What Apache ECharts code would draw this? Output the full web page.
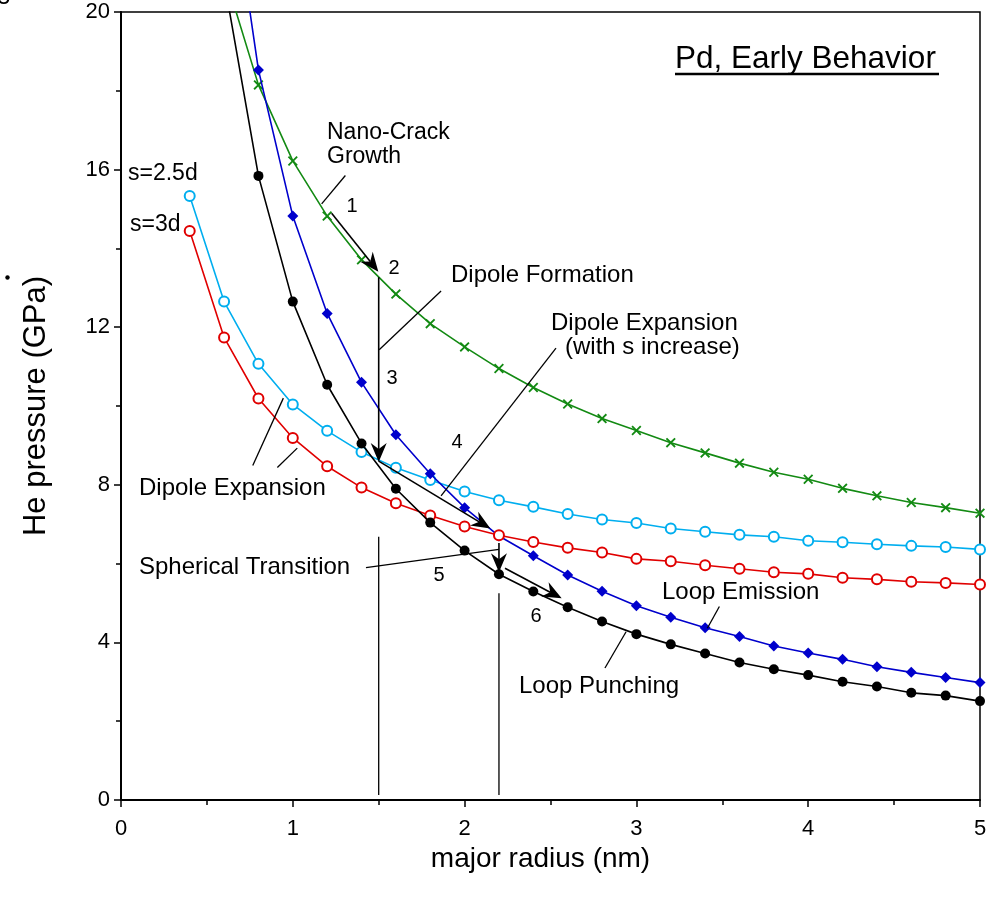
<!DOCTYPE html>
<html><head><meta charset="utf-8">
<script src="https://cdn.jsdelivr.net/npm/echarts@6/dist/echarts.min.js"></script>
<style>html,body{margin:0;padding:0;background:#fff}#c{width:995px;height:899px}</style>
</head><body><div id="c"></div>
<script>
// ---- data ----
const radiusFrom04 = [0.4,0.6,0.8,1.0,1.2,1.4,1.6,1.8,2.0,2.2,2.4,2.6,2.8,3.0,3.2,3.4,3.6,3.8,4.0,4.2,4.4,4.6,4.8,5.0];
const radiusFrom06 = [0.6,0.8,1.0,1.2,1.4,1.6,1.8,2.0,2.2,2.4,2.6,2.8,3.0,3.2,3.4,3.6,3.8,4.0,4.2,4.4,4.6,4.8,5.0];
const nanoCrack    = [21.0,18.15,16.22,14.82,13.71,12.84,12.09,11.50,10.95,10.47,10.05,9.68,9.38,9.07,8.81,8.55,8.32,8.14,7.91,7.72,7.55,7.42,7.28];
const loopEmission = [24.5,18.53,14.82,12.35,10.60,9.27,8.28,7.42,6.70,6.20,5.71,5.30,4.93,4.64,4.37,4.15,3.91,3.73,3.57,3.38,3.24,3.11,2.98];
const loopPunching = [20.8,15.84,12.65,10.54,9.05,7.90,7.04,6.33,5.73,5.29,4.89,4.53,4.21,3.95,3.72,3.49,3.32,3.17,3.00,2.88,2.72,2.65,2.51];
const dipoleS25    = [15.33,12.65,11.07,10.04,9.37,8.83,8.43,8.12,7.83,7.61,7.44,7.26,7.12,7.03,6.89,6.81,6.73,6.68,6.58,6.54,6.49,6.45,6.42,6.36];
const dipoleS3     = [14.44,11.74,10.19,9.19,8.47,7.93,7.53,7.22,6.94,6.72,6.55,6.40,6.28,6.12,6.06,5.96,5.87,5.78,5.74,5.64,5.60,5.54,5.51,5.47];
const xTicks = [0,1,2,3,4,5];
const yTicks = [0,4,8,12,16,20];

const FONT = '"Liberation Sans", Arial, Helvetica, sans-serif';
const pair = (xs, ys) => xs.map((x, i) => [x, ys[i]]);
const XMARK = 'path://M0,1.3L1.3,0L5,3.7L8.7,0L10,1.3L6.3,5L10,8.7L8.7,10L5,6.3L1.3,10L0,8.7L3.7,5Z';

const chart = echarts.init(document.getElementById('c'), null, {renderer: 'canvas'});

function mkSeries(name, xs, ys, color, symbol, size, z) {
  return {
    name, type: 'line', data: pair(xs, ys), z: z,
    symbol, symbolSize: size, showSymbol: true, clip: true,
    lineStyle: {color, width: 1.6},
    itemStyle: {color, borderColor: color, borderWidth: symbol === 'emptyCircle' ? 1.6 : 0},
    emphasis: {disabled: true}, animation: false, silent: true
  };
}

chart.setOption({
  backgroundColor: '#fff',
  animation: false,
  grid: {left: 121, right: 15, top: 12, bottom: 99, containLabel: false, outerBoundsMode: 'none',
         show: true, borderColor: '#000', borderWidth: 1.5, backgroundColor: 'transparent'},
  xAxis: {
    type: 'value', min: xTicks[0], max: xTicks[xTicks.length - 1], interval: 1,
    name: 'major radius (nm)', nameLocation: 'middle', nameGap: 43,
    nameTextStyle: {fontFamily: FONT, fontSize: 28, color: '#000', padding: [0, 20, 0, 0]},
    axisLine: {show: true, onZero: false, lineStyle: {color: '#000', width: 2}},
    axisTick: {show: true, inside: false, length: 7, lineStyle: {color: '#000', width: 1.5}},
    minorTick: {show: true, splitNumber: 2, length: 5, lineStyle: {color: '#000', width: 1.5}},
    axisLabel: {fontFamily: FONT, fontSize: 22, color: '#000', margin: 18},
    splitLine: {show: false}, minorSplitLine: {show: false}
  },
  yAxis: {
    type: 'value', min: yTicks[0], max: yTicks[yTicks.length - 1], interval: 4,
    name: 'He pressure (GPa)', nameLocation: 'middle', nameGap: 69,
    nameTextStyle: {fontFamily: FONT, fontSize: 31, color: '#000'},
    axisLine: {show: true, onZero: false, lineStyle: {color: '#000', width: 2}},
    axisTick: {show: true, inside: false, length: 7, lineStyle: {color: '#000', width: 1.5}},
    minorTick: {show: true, splitNumber: 2, length: 5, lineStyle: {color: '#000', width: 1.5}},
    axisLabel: {fontFamily: FONT, fontSize: 22, color: '#000', margin: 11},
    splitLine: {show: false}, minorSplitLine: {show: false}
  },
  series: [
    mkSeries('Nano-Crack Growth', radiusFrom06, nanoCrack, '#138a13', XMARK, 10, 2),
    mkSeries('s=2.5d', radiusFrom04, dipoleS25, '#00aeef', 'emptyCircle', 10, 3),
    mkSeries('Loop Emission', radiusFrom06, loopEmission, '#0000cc', 'diamond', 11, 4),
    mkSeries('s=3d', radiusFrom04, dipoleS3, '#e00000', 'emptyCircle', 10, 5),
    mkSeries('Loop Punching', radiusFrom06, loopPunching, '#000000', 'circle', 10, 6)
  ]
});

// ---- annotations (in data coordinates) ----
const leaders = [
  [[1.168,15.13],[1.306,15.85]],   // Nano-Crack Growth
  [[1.503,11.43],[1.863,12.92]],   // Dipole Formation
  [[2.532,11.47],[1.863,7.72]],    // Dipole Expansion (with s increase)
  [[0.767,8.49],[0.945,10.20]],    // Dipole Expansion (left)
  [[0.910,8.44],[1.026,8.93]],
  [[1.426,5.90],[2.2,6.36]],       // Spherical Transition
  [[1.5,6.68],[1.5,0.13]],         // vertical marker 1.5
  [[2.2,5.25],[2.2,0.13]],         // vertical marker 2.2
  [[3.483,4.91],[3.413,4.36]],     // Loop Emission
  [[2.94,4.27],[2.817,3.35]]       // Loop Punching
];
const arrows = [
  [[1.226,14.89],[1.498,13.41]],   // 1 -> 2
  [[1.5,13.27],[1.5,8.58]],        // 3
  [[1.5,8.60],[2.15,6.89]],        // 4
  [[2.2,6.52],[2.2,5.78]],         // 5
  [[2.235,5.88],[2.565,5.12]]      // 6
];
const texts = [
  {t: 'Pd, Early Behavior', x: 675, y: 59, s: 31.5},
  {t: 'Nano-Crack', x: 327, y: 133, s: 23},
  {t: 'Growth', x: 327, y: 157, s: 23},
  {t: 's=2.5d', x: 128, y: 174, s: 23},
  {t: 's=3d', x: 130, y: 225, s: 23},
  {t: 'Dipole Formation', x: 451, y: 275, s: 24},
  {t: 'Dipole Expansion', x: 551, y: 323, s: 24},
  {t: '(with s increase)', x: 565, y: 347, s: 24},
  {t: 'Dipole Expansion', x: 139, y: 488, s: 24},
  {t: 'Spherical Transition', x: 139, y: 567, s: 24},
  {t: 'Loop Emission', x: 662, y: 592, s: 24},
  {t: 'Loop Punching', x: 519, y: 686, s: 24},
  {t: '1', x: 352, y: 206, s: 20, c: true},
  {t: '2', x: 394, y: 268, s: 20, c: true},
  {t: '3', x: 392, y: 378, s: 20, c: true},
  {t: '4', x: 457, y: 442, s: 20, c: true},
  {t: '5', x: 439, y: 575, s: 20, c: true},
  {t: '6', x: 536, y: 616, s: 20, c: true}
];

function px(p) { return chart.convertToPixel({gridIndex: 0}, p); }
const g = [];
leaders.forEach(l => {
  const a = px(l[0]), b = px(l[1]);
  g.push({type: 'line', silent: true, z: 50, shape: {x1: a[0], y1: a[1], x2: b[0], y2: b[1]},
          style: {stroke: '#000', lineWidth: 1.3}});
});
arrows.forEach(l => {
  const a = px(l[0]), b = px(l[1]);
  const dx = b[0] - a[0], dy = b[1] - a[1], len = Math.hypot(dx, dy);
  const ux = dx / len, uy = dy / len, nx = -uy, ny = ux;
  const L = 19, W = 8, N = 13;
  const back = [b[0] - ux * L, b[1] - uy * L];
  const notch = [b[0] - ux * N, b[1] - uy * N];
  g.push({type: 'line', silent: true, z: 50, shape: {x1: a[0], y1: a[1], x2: notch[0], y2: notch[1]},
          style: {stroke: '#000', lineWidth: 1.6}});
  g.push({type: 'polygon', silent: true, z: 51,
          shape: {points: [b, [back[0] + nx * W, back[1] + ny * W], notch, [back[0] - nx * W, back[1] - ny * W]]},
          style: {fill: '#000'}});
});
texts.forEach(o => {
  g.push({type: 'text', silent: true, z: 60, x: o.x, y: o.y,
          style: {text: o.t, fill: '#000', font: o.s + 'px ' + FONT,
                  textAlign: o.c ? 'center' : 'left', textVerticalAlign: 'middle'}});
});
// title underline
g.push({type: 'line', silent: true, z: 60, shape: {x1: 675, y1: 74, x2: 939, y2: 74},
        style: {stroke: '#000', lineWidth: 2.5}});
// cropped fragments at the left edge of the original figure
g.push({type: 'circle', silent: true, z: 60, shape: {cx: 7.5, cy: 277.5, r: 2.2}, style: {fill: '#000'}});
g.push({type: 'text', silent: true, z: 60, x: -3, y: 9,
        style: {text: '3', fill: '#000', font: '24px ' + FONT, textAlign: 'left', textVerticalAlign: 'bottom'}});
chart.setOption({graphic: {elements: g}});
</script>
</body></html>
